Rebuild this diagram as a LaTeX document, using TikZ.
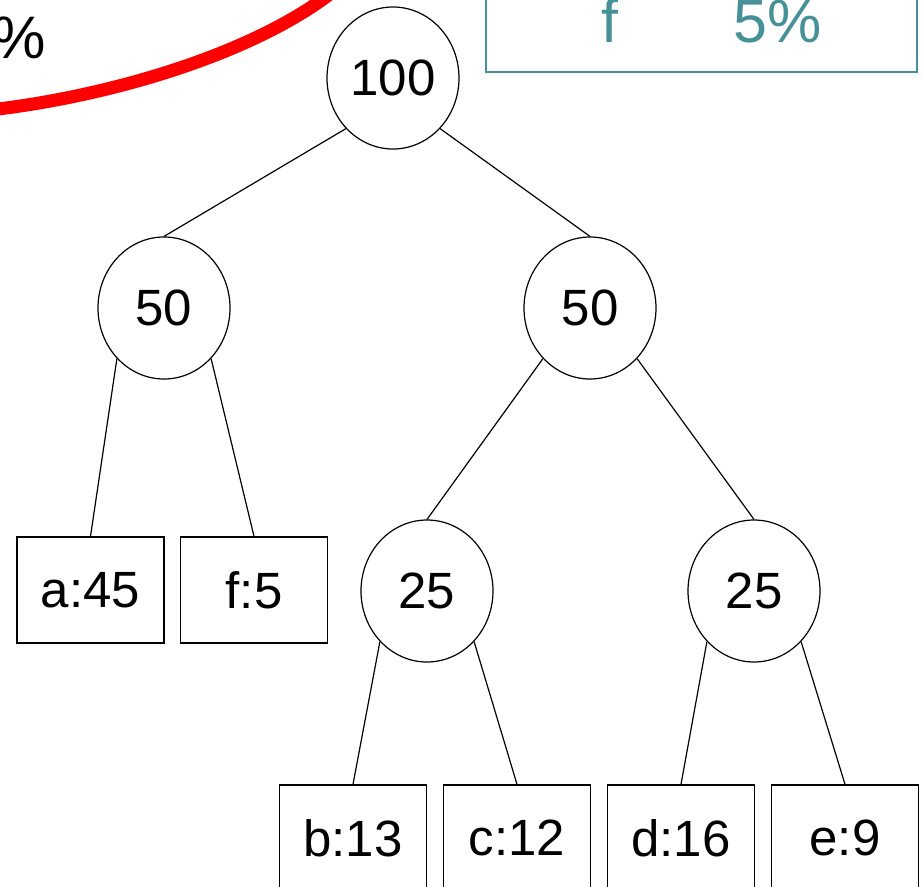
\documentclass[tikz,border=0pt]{standalone}
\usepackage{fontspec}
\setmainfont{Liberation Sans}
\usetikzlibrary{shapes.geometric}
\definecolor{tealtext}{RGB}{70,145,152}
\tikzset{
  sum/.style={draw, ellipse, line width=1.2pt, minimum width=132pt, minimum height=142pt, inner sep=0pt, font=\fontsize{51}{56}\selectfont},
  leaf/.style={draw, rectangle, line width=1.4pt, minimum width=147pt, minimum height=106pt, inner sep=0pt, font=\fontsize{51}{56}\selectfont},
  edge/.style={line width=1.2pt},
}
\begin{document}
\begin{tikzpicture}[x=1pt, y=-1pt]
\useasboundingbox (0,0) rectangle (923,886);
\clip (0,0) rectangle (923,886);

% percentage table fragment, upper right
\draw[tealtext, line width=2pt] (486,-40) rectangle (917,72);
\node[tealtext, anchor=base, font=\fontsize{61}{66}\selectfont] (fl) at (610,42) {f};
\node[tealtext, anchor=base, font=\fontsize{61}{66}\selectfont] (fp) at (778,42) {5\%};

% percent sign and red marking stroke, upper left
\node[anchor=base east, font=\fontsize{60}{66}\selectfont, inner sep=0pt] (pc) at (46,58) {\%};
\draw[red, line width=13pt] (-10,110) .. controls (120,95) and (260,50) .. (335,-10);

% Huffman tree
\node[sum] (root) at (393,78) {100};
\node[sum] (l) at (164,308) {50};
\node[sum] (r) at (590,308) {50};
\node[leaf] (a) at (90.5,590) {a:45};
\node[leaf] (f) at (254,590) {f:5};
\node[sum] (rl) at (427,591) {25};
\node[sum] (rr) at (754,591) {25};
\node[leaf] (b) at (353,838) {b:13};
\node[leaf] (c) at (517,838) {c:12};
\node[leaf] (d) at (681,838) {d:16};
\node[leaf] (e) at (845,838) {e:9};

\draw[edge] (root.south west) -- (l.north);
\draw[edge] (root.south east) -- (r.north);
\draw[edge] (l.south west) -- (a.north);
\draw[edge] (l.south east) -- (f.north);
\draw[edge] (r.south west) -- (rl.north);
\draw[edge] (r.south east) -- (rr.north);
\draw[edge] (rl.south west) -- (b.north);
\draw[edge] (rl.south east) -- (c.north);
\draw[edge] (rr.south west) -- (d.north);
\draw[edge] (rr.south east) -- (e.north);
\end{tikzpicture}
\end{document}
